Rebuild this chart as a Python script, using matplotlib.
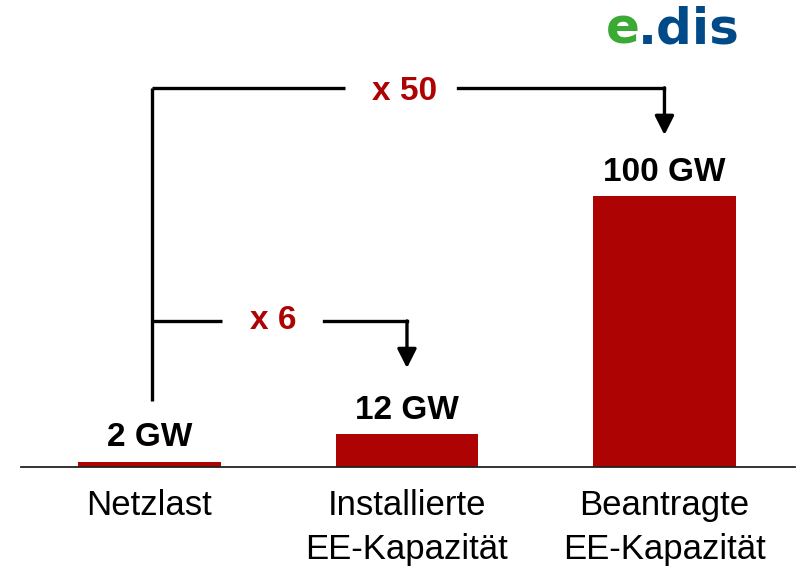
import matplotlib
matplotlib.use('Agg')
import matplotlib.pyplot as plt

plt.rcParams['font.family'] = ['Liberation Sans', 'DejaVu Sans']

# data
categories = ['Netzlast', 'Installierte\nEE-Kapazität', 'Beantragte\nEE-Kapazität']
values_gw = [2, 12, 100]
value_labels = ['2 GW', '12 GW', '100 GW']
factor_labels = ['x 6', 'x 50']

bar_color = '#AE0303'
red_text = '#AE0303'

fig = plt.figure(figsize=(7.98, 5.69), dpi=100)
ax = fig.add_axes([21 / 798, 1 - 467 / 569, 774 / 798, 467 / 569])

x = range(len(categories))
ax.bar(x, values_gw, width=0.555, color=bar_color, zorder=2)

ax.set_xlim(-0.499, 2.507)
ax.set_ylim(0, 172.3)

# value labels above bars
for xi, v, lab in zip(x, values_gw, value_labels):
    ax.annotate(lab, xy=(xi, v), xytext=(0, 11), textcoords='offset points',
                ha='center', va='baseline', fontsize=24, fontweight='bold', color='black')

# brackets
lw = 2.4
x0 = 0.01
y_top = 139.9
y_low = 53.9
ax.plot([x0, x0], [24.4, y_top], color='black', lw=lw, solid_capstyle='butt')
ax.plot([x0, 0.76], [y_top, y_top], color='black', lw=lw, solid_capstyle='butt')
ax.plot([1.2, 2.0], [y_top, y_top], color='black', lw=lw, solid_capstyle='projecting')
ax.plot([x0, 0.28], [y_low, y_low], color='black', lw=lw, solid_capstyle='butt')
ax.plot([0.678, 1.0], [y_low, y_low], color='black', lw=lw, solid_capstyle='projecting')

arrow = dict(arrowstyle='-|>,head_length=1.15,head_width=0.58', lw=lw, color='black',
             shrinkA=0, shrinkB=0, mutation_scale=10)
ax.annotate('', xy=(1.0, 36.5), xytext=(1.0, y_low), arrowprops=arrow)
ax.annotate('', xy=(2.0, 122.5), xytext=(2.0, y_top), arrowprops=arrow)

ax.text(0.48, y_low, factor_labels[0], ha='center', va='center', fontsize=24,
        fontweight='bold', color=red_text)
ax.text(0.99, y_top - 1.2, factor_labels[1], ha='center', va='center', fontsize=24,
        fontweight='bold', color=red_text)

# axis styling
for s in ['top', 'right', 'left']:
    ax.spines[s].set_visible(False)
ax.spines['bottom'].set_color('#222222')
ax.spines['bottom'].set_linewidth(1.3)
ax.set_yticks([])
ax.set_xticks(list(x))
ax.set_xticklabels(categories, fontsize=25, linespacing=1.42)
ax.tick_params(axis='x', length=0, pad=16)

# logo
e_txt = fig.text(606 / 798, 1 - 43 / 569, 'e', fontsize=36, fontweight='bold',
                 color='#3AAA35', family='DejaVu Sans', ha='left', va='baseline')
ax.annotate('.dis', xy=(1, 0), xycoords=e_txt, xytext=(-1.5, 0), textcoords='offset points',
            fontsize=36, fontweight='bold', color='#004B87', family='DejaVu Sans',
            ha='left', va='bottom', annotation_clip=False)

fig.savefig('out.png', dpi=100)
